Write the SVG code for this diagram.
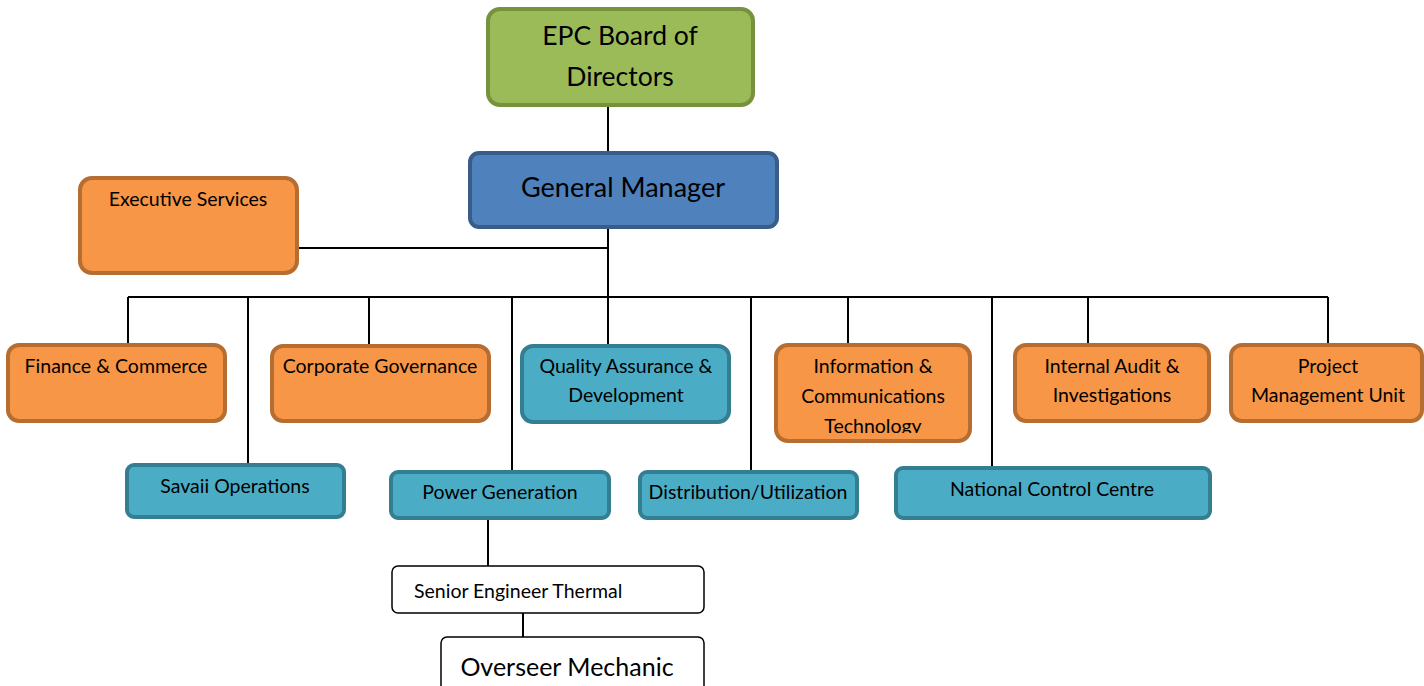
<svg xmlns="http://www.w3.org/2000/svg" width="1424" height="686" viewBox="0 0 1424 686">
<defs>
<style>
text{font-family:Lato,"Open Sans","Liberation Sans",sans-serif;fill:#000;text-anchor:middle}
.or{fill:#f79646;stroke:#b66d31;stroke-width:4}
.tl{fill:#4bacc6;stroke:#357d91;stroke-width:4}
.gr{fill:#9bbb59;stroke:#77923c;stroke-width:4}
.bl{fill:#4f81bd;stroke:#385d8a;stroke-width:4}
.wh{fill:#fff;stroke:#000;stroke-width:1.5}
.m{font-size:19.5px}
.c{fill:none;stroke:#000;stroke-width:2}
</style>
<clipPath id="ictclip"><rect x="776" y="345" width="196" height="88"/></clipPath>
</defs>
<rect width="1424" height="686" fill="#fff"/>
<g id="connectors">
<path class="c" d="M608 105V153M608 227V297M297 248H608M128 297H1328M128 297V345M248 297V466M369 297V346M512 297V473M608 297V346M751 297V473M848 297V346M992 297V469M1088 297V346M1328 297V346M488 518V566M523 613V637"/>
</g>
<g id="board"><rect class="gr" x="488" y="9" width="265" height="96" rx="12"/><text x="620" y="45" font-size="26.5">EPC Board of</text><text x="620" y="86" font-size="26.5">Directors</text></g>
<g id="gm"><rect class="bl" x="470" y="153" width="307" height="74" rx="9"/><text x="623" y="197" font-size="27">General Manager</text></g>
<g id="exec"><rect class="or" x="80" y="178" width="217" height="95" rx="12"/><text class="m" x="188" y="206">Executive Services</text></g>
<g id="finance"><rect class="or" x="8" y="345" width="217" height="76" rx="11"/><text class="m" x="116" y="373">Finance &amp; Commerce</text></g>
<g id="corp"><rect class="or" x="272" y="346" width="217" height="75" rx="11"/><text class="m" x="380" y="373">Corporate Governance</text></g>
<g id="qa"><rect class="tl" x="522" y="346" width="207" height="76" rx="11"/><text class="m" x="626" y="373">Quality Assurance &amp;</text><text class="m" x="626" y="402">Development</text></g>
<g id="ict"><rect class="or" x="776" y="345" width="194" height="96" rx="12"/><g clip-path="url(#ictclip)"><text class="m" x="873" y="373">Information &amp;</text><text class="m" x="873" y="403">Communications</text><text class="m" x="873" y="433">Technology</text></g></g>
<g id="audit"><rect class="or" x="1015" y="345" width="194" height="76" rx="11"/><text class="m" x="1112" y="373">Internal Audit &amp;</text><text class="m" x="1112" y="402">Investigations</text></g>
<g id="pmu"><rect class="or" x="1231" y="345" width="191" height="76" rx="11"/><text class="m" x="1328" y="373">Project</text><text class="m" x="1328" y="402">Management Unit</text></g>
<g id="savaii"><rect class="tl" x="127" y="465" width="217" height="52" rx="7"/><text class="m" x="235" y="493">Savaii Operations</text></g>
<g id="power"><rect class="tl" x="391" y="472" width="218" height="46" rx="7"/><text class="m" x="500" y="499">Power Generation</text></g>
<g id="dist"><rect class="tl" x="640" y="472" width="217" height="46" rx="7"/><text class="m" x="748" y="499">Distribution/Utilization</text></g>
<g id="ncc"><rect class="tl" x="896" y="468" width="314" height="50" rx="7"/><text class="m" x="1052" y="496">National Control Centre</text></g>
<g id="set"><rect class="wh" x="392" y="566" width="312" height="47" rx="6"/><text class="m" x="414" y="598" style="text-anchor:start">Senior Engineer Thermal</text></g>
<g id="om"><rect class="wh" x="441" y="637" width="263" height="56" rx="6"/><text x="567" y="676" font-size="25">Overseer Mechanic</text></g>
</svg>
